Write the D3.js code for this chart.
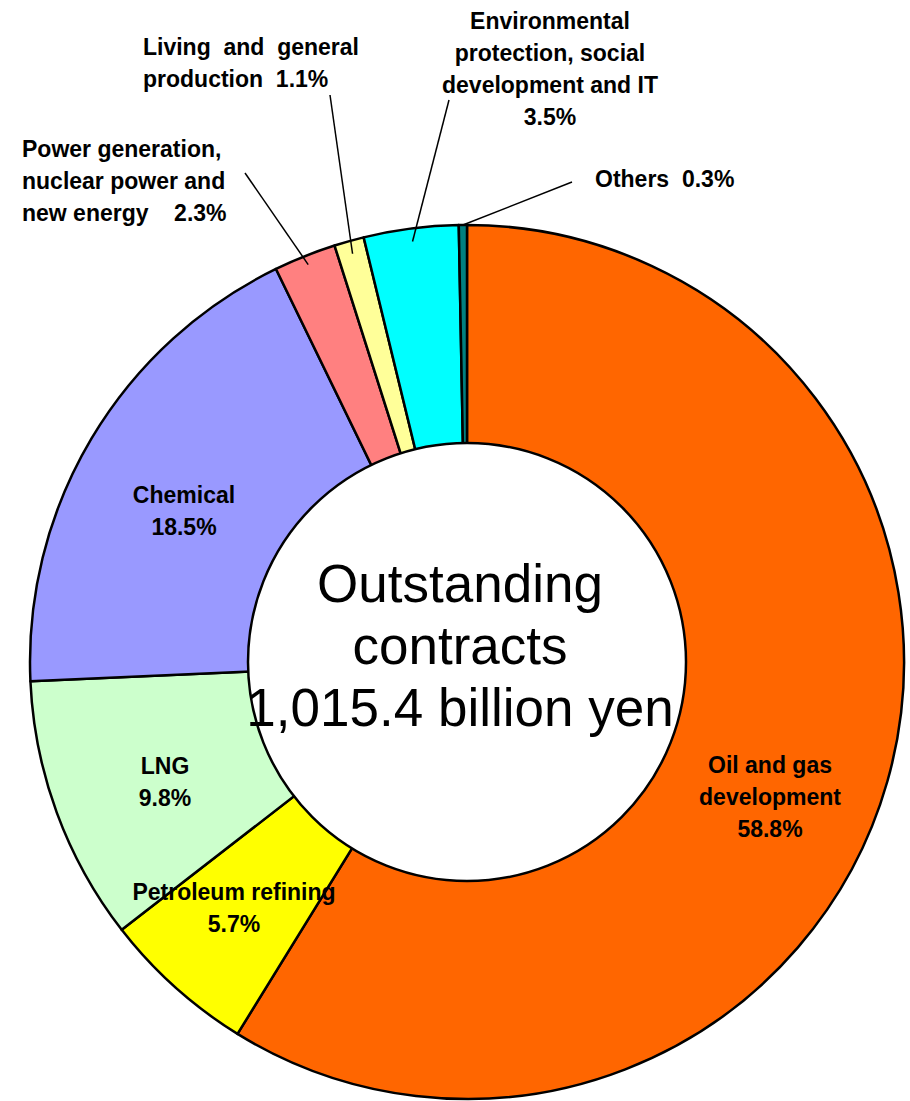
<!DOCTYPE html>
<html><head><meta charset="utf-8">
<script src="https://cdn.jsdelivr.net/npm/d3@7"></script>
<style>body{margin:0;background:#fff}svg{display:block}</style>
</head><body>
<svg id="chart" width="910" height="1101"></svg>
<script>
// ---- data ----
const categories = ["Oil and gas development","Petroleum refining","LNG","Chemical",
  "Power generation, nuclear power and new energy","Living and general production",
  "Environmental protection, social development and IT","Others"];
const shares = [58.8, 5.7, 9.8, 18.5, 2.3, 1.1, 3.5, 0.3];
const labelLines = [
  ["Oil and gas","development","58.8%"],
  ["Petroleum refining","5.7%"],
  ["LNG","9.8%"],
  ["Chemical","18.5%"],
  ["Power generation,","nuclear power and","new energy    2.3%"],
  ["Living  and  general","production  1.1%"],
  ["Environmental","protection, social","development and IT","3.5%"],
  ["Others  0.3%"]
];
const centerLines = ["Outstanding","contracts","1,015.4 billion yen"];
const colors = ["#FF6600","#FFFF00","#CCFFCC","#9999FF","#FF8080","#FFFF99","#00FFFF","#008080"];

// ---- layout (styling only) ----
const cx = 467, cy = 662, R = 437, r0 = 219;
const labelPos = [
  {x:770, y:773, a:"middle"},
  {x:234, y:900, a:"middle"},
  {x:165, y:774, a:"middle"},
  {x:184, y:503, a:"middle"},
  {x:22,  y:157, a:"start", lx:245, ly:173, lr:428},
  {x:143, y:55,  a:"start", lx:330, ly:95,  lr:424},
  {x:550, y:29,  a:"middle", lx:449, ly:100, lr:424},
  {x:595, y:187, a:"start", lx:572, ly:182, lr:437}
];

const svg = d3.select("#chart");
const g = svg.append("g").attr("transform",`translate(${cx},${cy})`);
const pie = d3.pie().sort(null).value(d=>d)(shares);
const arc = d3.arc().innerRadius(0).outerRadius(R);

g.selectAll("path.slice").data(pie).join("path")
  .attr("class","slice")
  .attr("d",arc)
  .attr("fill",(d,i)=>colors[i])
  .attr("stroke","#000").attr("stroke-width",2.5).attr("stroke-linejoin","round");

// inner white circle
g.append("circle").attr("r",r0).attr("fill","#fff").attr("stroke","#000").attr("stroke-width",2.5);

// leader lines
pie.forEach((d,i)=>{
  const p = labelPos[i];
  if (p.lx === undefined) return;
  const mid = (d.startAngle+d.endAngle)/2;
  const ex = Math.sin(mid)*p.lr, ey = -Math.cos(mid)*p.lr;
  g.append("line")
    .attr("x1",ex).attr("y1",ey)
    .attr("x2",p.lx-cx).attr("y2",p.ly-cy)
    .attr("stroke","#000").attr("stroke-width",1.5);
});

// labels
labelLines.forEach((lines,i)=>{
  const p = labelPos[i];
  const t = svg.append("text")
    .attr("font-family","'Liberation Sans', Arial, sans-serif")
    .attr("font-weight","bold")
    .attr("font-size",23)
    .attr("fill","#000")
    .attr("text-anchor",p.a)
    .attr("xml:space","preserve")
    .style("white-space","pre");
  lines.forEach((s,j)=>{
    t.append("tspan").attr("x",p.x).attr("y",p.y+j*32).text(s);
  });
});

// center text
const ct = svg.append("text")
  .attr("font-family","'Liberation Sans', Arial, sans-serif")
  .attr("font-size",53)
  .attr("fill","#000")
  .attr("text-anchor","middle");
centerLines.forEach((s,j)=>{
  ct.append("tspan").attr("x",460).attr("y",602+j*62).text(s);
});
</script>
</body></html>
